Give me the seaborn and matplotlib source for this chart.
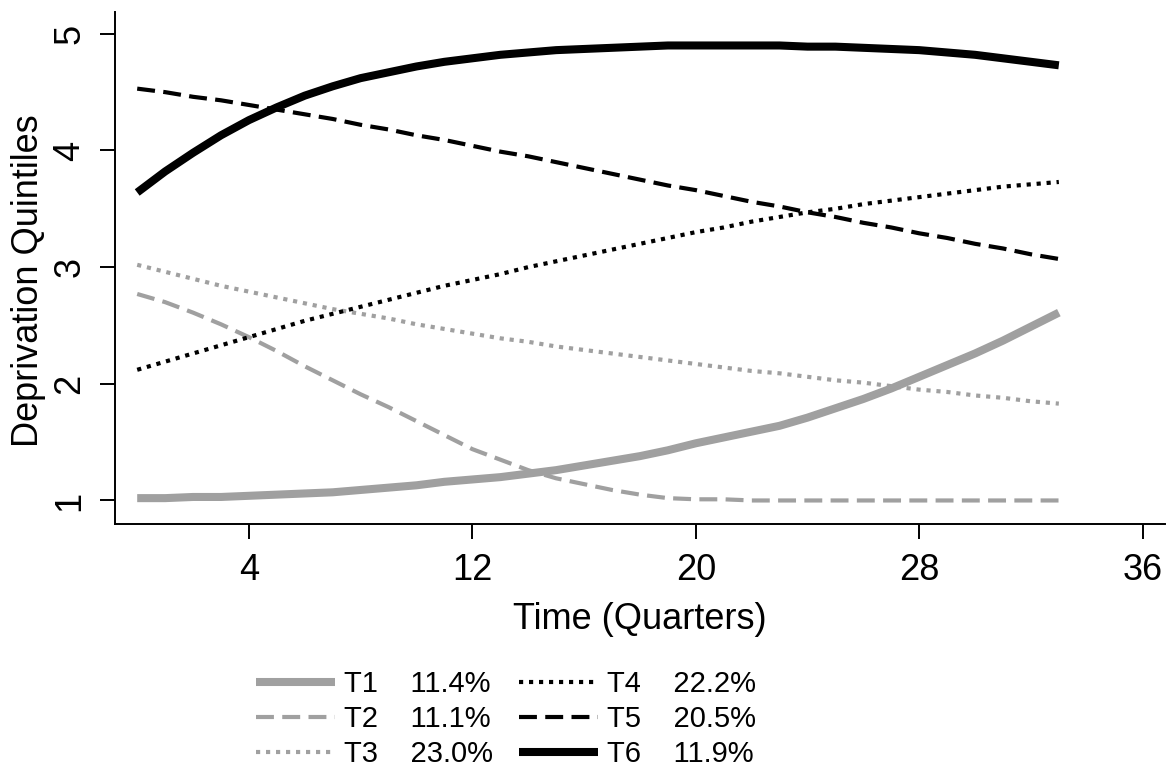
import numpy as np
import pandas as pd
import matplotlib
matplotlib.use('Agg')
import matplotlib.pyplot as plt
import seaborn as sns

sns.set_style('ticks')
plt.rcParams['font.family'] = ['Liberation Sans', 'DejaVu Sans']

quarters = list(range(0, 34))

t1 = [1.02, 1.02, 1.03, 1.03, 1.04, 1.05, 1.06, 1.07, 1.09, 1.11, 1.13, 1.16,
      1.18, 1.20, 1.23, 1.26, 1.30, 1.34, 1.38, 1.43, 1.49, 1.54, 1.59, 1.64,
      1.71, 1.79, 1.87, 1.96, 2.06, 2.16, 2.26, 2.37, 2.49, 2.61]
t2 = [2.77, 2.70, 2.61, 2.51, 2.40, 2.28, 2.15, 2.03, 1.91, 1.80, 1.68, 1.56,
      1.44, 1.35, 1.26, 1.19, 1.14, 1.09, 1.05, 1.02, 1.01, 1.01, 1.00, 1.00,
      1.00, 1.00, 1.00, 1.00, 1.00, 1.00, 1.00, 1.00, 1.00, 1.00]
t3 = [3.02, 2.96, 2.90, 2.84, 2.79, 2.74, 2.69, 2.64, 2.60, 2.56, 2.51, 2.47,
      2.43, 2.39, 2.36, 2.32, 2.29, 2.26, 2.23, 2.20, 2.17, 2.14, 2.11, 2.09,
      2.06, 2.03, 2.01, 1.98, 1.95, 1.93, 1.90, 1.88, 1.85, 1.83]
t4 = [2.12, 2.19, 2.26, 2.33, 2.40, 2.47, 2.54, 2.60, 2.66, 2.72, 2.78, 2.84,
      2.89, 2.94, 3.00, 3.05, 3.10, 3.15, 3.20, 3.25, 3.30, 3.34, 3.39, 3.43,
      3.47, 3.50, 3.54, 3.57, 3.60, 3.63, 3.66, 3.69, 3.71, 3.73]
t5 = [4.53, 4.50, 4.46, 4.43, 4.39, 4.35, 4.31, 4.27, 4.22, 4.18, 4.13, 4.09,
      4.04, 3.99, 3.95, 3.90, 3.85, 3.80, 3.75, 3.70, 3.66, 3.61, 3.56, 3.52,
      3.47, 3.43, 3.38, 3.34, 3.29, 3.25, 3.20, 3.16, 3.11, 3.07]
t6 = [3.64, 3.82, 3.98, 4.13, 4.26, 4.37, 4.47, 4.55, 4.62, 4.67, 4.72, 4.76,
      4.79, 4.82, 4.84, 4.86, 4.87, 4.88, 4.89, 4.90, 4.90, 4.90, 4.90, 4.90,
      4.89, 4.89, 4.88, 4.87, 4.86, 4.84, 4.82, 4.79, 4.76, 4.73]

groups = ['T1', 'T2', 'T3', 'T4', 'T5', 'T6']
shares = ['11.4%', '11.1%', '23.0%', '22.2%', '20.5%', '11.9%']
series = [t1, t2, t3, t4, t5, t6]

gray = '#A0A0A0'
styles = {
    'T1': dict(color=gray, lw=5.8, ls='-'),
    'T2': dict(color=gray, lw=3.0, ls=(0, (4.3, 2.0))),
    'T3': dict(color=gray, lw=3.0, ls=(0, (1.0, 1.4))),
    'T4': dict(color='black', lw=3.0, ls=(0, (1.0, 1.4))),
    'T5': dict(color='black', lw=3.0, ls=(0, (4.3, 2.0))),
    'T6': dict(color='black', lw=5.8, ls='-'),
}

df = pd.DataFrame({
    'quarter': quarters * len(groups),
    'value': sum(series, []),
    'group': np.repeat(groups, len(quarters)),
})

fig = plt.figure(figsize=(11.72, 7.76), dpi=100)
ax = fig.add_axes([0.098, 0.325, 0.896, 0.66])

handles = []
for g, pct in zip(groups, shares):
    st = styles[g]
    sns.lineplot(data=df[df['group'] == g], x='quarter', y='value', ax=ax,
                 color=st['color'], linewidth=st['lw'], legend=False)
    line = ax.lines[-1]
    line.set_linestyle(st['ls'])
    line.set_solid_capstyle('butt')
    line.set_dash_capstyle('butt')
    line.set_solid_joinstyle('round')
    line.set_label(f'{g}    {pct}')
    handles.append(line)

ax.set_xlim(-0.8, 36.8)
ax.set_ylim(0.8, 5.19)
ax.set_xticks([4, 12, 20, 28, 36])
ax.set_yticks([1, 2, 3, 4, 5])
ax.set_yticklabels(['1', '2', '3', '4', '5'], rotation=90, va='center')
ax.tick_params(axis='both', direction='out', length=10.8, width=1.4,
               labelsize=26, color='black', labelcolor='black')
ax.tick_params(axis='x', pad=10)
ax.tick_params(axis='y', pad=9)
for s in ['top', 'right']:
    ax.spines[s].set_visible(False)
for s in ['left', 'bottom']:
    ax.spines[s].set_linewidth(1.4)
    ax.spines[s].set_color('black')

ax.set_xlabel('Time (Quarters)', fontsize=26, labelpad=10, color='black')
ax.set_ylabel('Deprivation Quintiles', fontsize=26, labelpad=4.5, color='black')
ax.yaxis.label.set_y(0.475)

fig.legend(handles, [h.get_label() for h in handles],
           loc='center', bbox_to_anchor=(506 / 1172, 1 - 719 / 776),
           ncol=2, frameon=False, fontsize=21, handlelength=2.7,
           handletextpad=0.3, columnspacing=0.9, labelspacing=0.25,
           labelcolor='black')

fig.savefig('out.png', dpi=100)
